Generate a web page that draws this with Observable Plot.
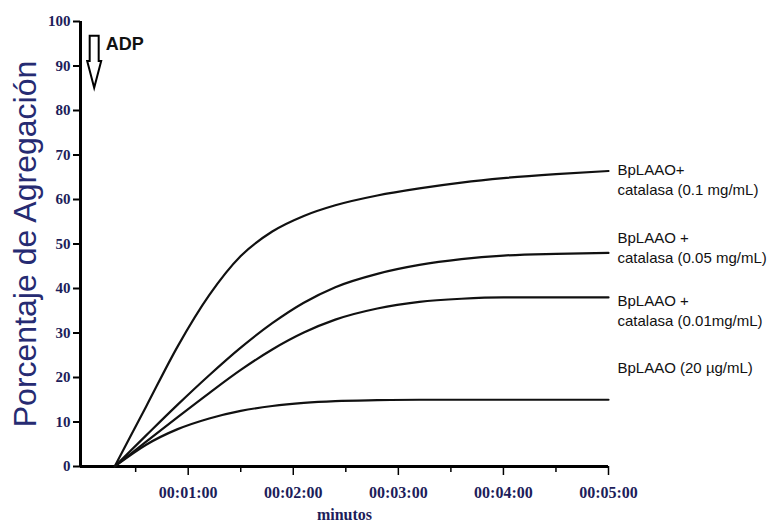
<!DOCTYPE html>
<html>
<head>
<meta charset="utf-8">
<script src="https://cdn.jsdelivr.net/npm/d3@7"></script>
<script src="https://cdn.jsdelivr.net/npm/@observablehq/plot@0.6"></script>
<style>
  html, body { margin: 0; padding: 0; background: #fff; }
  #chart svg { display: block; }
</style>
</head>
<body>
<div id="chart"></div>
<script>
// Sample times (minutes after start of recording)
const times = [0.3, 0.6, 0.9, 1.2, 1.5, 1.8, 2.1, 2.4, 2.8, 3.2, 3.6, 4.0, 4.5, 5.0];

// Aggregation (%) for each treatment
const catalasa01  = [0, 13.5, 27.0, 38.5, 47.3, 52.8, 56.3, 58.7, 60.9, 62.5, 63.8, 64.8, 65.7, 66.4];
const catalasa005 = [0, 7.0, 13.9, 20.5, 26.7, 32.2, 36.8, 40.3, 43.3, 45.3, 46.6, 47.4, 47.8, 48.0];
const catalasa001 = [0, 5.6, 11.1, 16.5, 21.7, 26.3, 30.1, 33.0, 35.5, 37.0, 37.7, 38.0, 38.0, 38.0];
const bplaao20    = [0, 4.9, 8.4, 10.8, 12.5, 13.6, 14.3, 14.7, 14.9, 15.0, 15.0, 15.0, 15.0, 15.0];

const seriesNames = ["0.1", "0.05", "0.01", "20"];
const seriesValues = [catalasa01, catalasa005, catalasa001, bplaao20];

// Curve labels and the level (in %) at which each label block is centred
const labelTexts = [
  "BpLAAO+\ncatalasa (0.1 mg/mL)",
  "BpLAAO +\ncatalasa (0.05 mg/mL)",
  "BpLAAO +\ncatalasa (0.01mg/mL)",
  "BpLAAO (20 µg/mL)"
];
const labelLevels = [64.7, 49.4, 35.3, 22.5];

// Axis ticks
const yTicks = [0, 10, 20, 30, 40, 50, 60, 70, 80, 90, 100];
const xMajorTicks = [1, 2, 3, 4, 5];
const xMinorTicks = [0.5, 1.5, 2.5, 3.5, 4.5];
const xTickLabels = ["00:01:00", "00:02:00", "00:03:00", "00:04:00", "00:05:00"];

// ADP addition marker
const adpTime = 0.11;
const adpTop = 96.7;
const adpHead = 91;
const adpTip = 85;
const adpLabelLevel = 95;

const xDomain = [-0.025, 5];

const rows = seriesNames.flatMap((name, i) =>
  times.map((t, j) => ({series: name, t, v: seriesValues[i][j]}))
);
const labelRows = labelTexts.map((text, i) => ({text, v: labelLevels[i]}));

const tickFont = "'Liberation Serif', 'Times New Roman', serif";
const sansFont = "'Liberation Sans', Arial, sans-serif";
const navy = "#1d1d5a";

// Hollow downward arrow drawn in scale coordinates
function adpArrow(...args) {
  const scales = args.find(a => a && typeof a.x === "function" && typeof a.y === "function");
  const cx = scales.x(adpTime);
  const top = scales.y(adpTop);
  const head = scales.y(adpHead);
  const tip = scales.y(adpTip);
  const sw = 4.5, hw = 7;
  const p = d3.path();
  p.moveTo(cx - sw, top);
  p.lineTo(cx + sw, top);
  p.lineTo(cx + sw, head);
  p.lineTo(cx + hw, head);
  p.lineTo(cx, tip);
  p.lineTo(cx - hw, head);
  p.lineTo(cx - sw, head);
  p.closePath();
  return d3.create("svg:path")
    .attr("d", p.toString())
    .attr("fill", "white")
    .attr("stroke", "black")
    .attr("stroke-width", 2)
    .attr("stroke-linejoin", "miter")
    .node();
}

const chart = Plot.plot({
  width: 778,
  height: 525,
  marginLeft: 80,
  marginRight: 170,
  marginTop: 21,
  marginBottom: 59,
  style: {background: "white", overflow: "visible"},
  x: {domain: xDomain},
  y: {domain: [0, 100]},
  marks: [
    // y axis ticks and labels
    Plot.axisY({
      ticks: yTicks,
      tickSize: 7,
      tickPadding: 3,
      stroke: "black",
      strokeWidth: 2,
      fill: navy,
      fontFamily: tickFont,
      fontWeight: "bold",
      fontSize: 15,
      label: null
    }),
    // x axis minor ticks
    Plot.axisX({
      ticks: xMinorTicks,
      tickSize: 6,
      stroke: "black",
      strokeWidth: 1.5,
      tickFormat: () => "",
      label: null
    }),
    // x axis major ticks and labels
    Plot.axisX({
      ticks: xMajorTicks,
      tickSize: 9,
      tickPadding: 11,
      stroke: "black",
      strokeWidth: 1.5,
      fill: navy,
      fontFamily: tickFont,
      fontWeight: "bold",
      fontSize: 16,
      tickFormat: (d) => xTickLabels[xMajorTicks.indexOf(d)],
      label: null
    }),
    // axis lines
    Plot.ruleX([xDomain[0]], {y1: 0, y2: 100, stroke: "black", strokeWidth: 3}),
    Plot.ruleY([0], {x1: xDomain[0], x2: 5, stroke: "black", strokeWidth: 3}),
    // aggregation curves
    Plot.line(rows, {
      x: "t", y: "v", z: "series",
      curve: "monotone-x",
      stroke: "#111",
      strokeWidth: 2.2
    }),
    // curve labels
    Plot.text(labelRows, {
      x: () => 5, y: "v", text: "text",
      textAnchor: "start",
      lineAnchor: "middle",
      lineHeight: 1.35,
      dx: 9,
      fill: "#111",
      fontFamily: sansFont,
      fontSize: 15
    }),
    // ADP marker
    adpArrow,
    Plot.text(["ADP"], {
      x: () => adpTime, y: () => adpLabelLevel, text: (d) => d,
      textAnchor: "start",
      lineAnchor: "middle",
      dx: 11,
      fill: "#111",
      fontFamily: sansFont,
      fontWeight: "bold",
      fontSize: 18
    }),
    // axis titles
    Plot.text(["minutos"], {
      frameAnchor: "bottom",
      text: (d) => d,
      dy: 48,
      lineAnchor: "middle",
      fill: navy,
      fontFamily: tickFont,
      fontWeight: "bold",
      fontSize: 16
    }),
    Plot.text(["Porcentaje de Agregación"], {
      frameAnchor: "left",
      text: (d) => d,
      rotate: -90,
      dx: -45,
      textAnchor: "middle",
      lineAnchor: "bottom",
      fill: "#262b72",
      fontFamily: sansFont,
      fontSize: 32
    })
  ]
});

document.getElementById("chart").appendChild(chart);
</script>
</body>
</html>
